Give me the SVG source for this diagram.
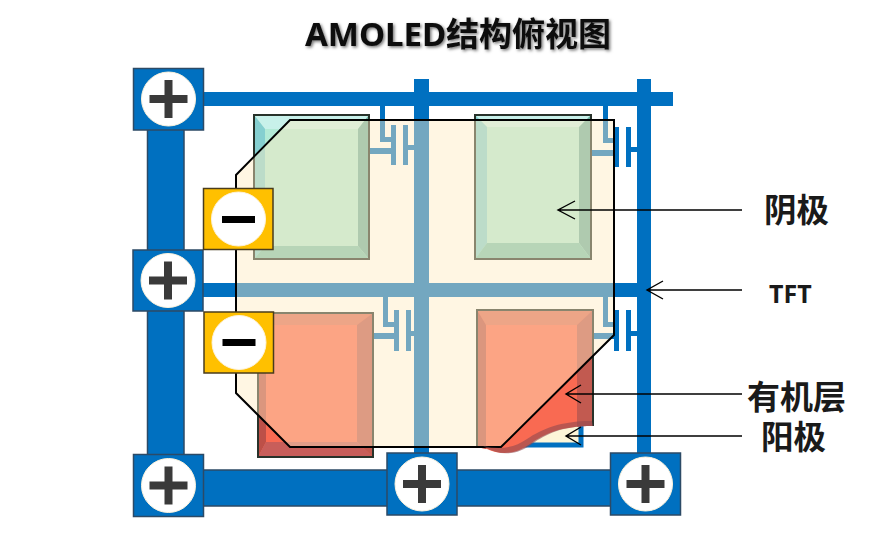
<svg xmlns="http://www.w3.org/2000/svg" width="880" height="556" viewBox="0 0 880 556">
<style>
.bus{fill:#0070c0}
.busl{fill:#0070c0;stroke:#2c4a66;stroke-width:1.5}
.pbox{fill:#0070c0;stroke:#2c4a66;stroke-width:1.5}
.mbox{fill:#ffc000;stroke:#4a3c1c;stroke-width:1.5}
.disc{fill:#fff;stroke:#fdf3dc;stroke-width:1}
.sign{fill:#3a3a3a}
.signm{fill:#000}
.gt{fill:#c8f1ea}.gl{fill:#85cfd0}.gr{fill:#6db0a0}.gb{fill:#7cc4b0}.gf{fill:#b2ead6}
.rt{fill:#de6c58}.rl{fill:#bd5048}.rr{fill:#c25a50}.rb{fill:#c85e5a}.rf{fill:#f96a52}
.edge{fill:none;stroke:#28322a;stroke-width:2}
.panel{fill:#ffeac0;fill-opacity:.45}
.outline{fill:none;stroke:#000;stroke-width:2}
.arrow{fill:none;stroke:#000;stroke-width:1.4}
.lbl{font-family:"Noto Sans","Noto Sans CJK SC",sans-serif;font-weight:700;fill:#1a1a1a}
</style>
<defs>
<filter id="sh" x="-5%" y="-30%" width="110%" height="160%"><feDropShadow dx="1.5" dy="1.5" stdDeviation="1.5" flood-color="#000" flood-opacity=".55"/></filter>
<clipPath id="curl"><path d="M470 300H600V426H593C560 426 544 434 530 444C515 455 500 455 487 449L470 446Z"/></clipPath>
<g id="plusMark"><rect class="sign" x="-19" y="-4" width="38" height="8"/><rect class="sign" x="-4" y="-19" width="8" height="38"/></g>
</defs>
<text x="458" y="46" text-anchor="middle" font-size="33" font-weight="700" filter="url(#sh)" style="font-family:'Noto Sans','Noto Sans CJK SC',sans-serif" fill="#111">AMOLED结构俯视图</text>

<g id="connectors">
<rect class="bus" x="200" y="92" width="473" height="14"/>
<rect class="bus" x="414" y="79" width="15" height="376"/>
<rect class="bus" x="637" y="79" width="14" height="376"/>
<rect class="bus" x="200" y="283" width="440" height="14"/>
<rect class="busl" x="147.500" y="128" width="36.500" height="328"/>
<rect class="busl" x="200" y="470" width="412" height="36"/>
<g class="bus">
<path d="M380 106h5v31h6v5h-11z"/><rect x="369" y="148" width="22" height="6"/><rect x="391" y="125" width="5" height="40"/><rect x="403" y="125" width="5" height="40"/><rect x="408" y="145" width="6" height="5"/>
<path d="M603 106h5v32h6v5h-11z"/><rect x="591" y="150" width="23" height="6"/><rect x="614" y="127" width="5" height="40"/><rect x="626" y="127" width="5" height="40"/><rect x="631" y="147" width="6" height="5"/>
<path d="M383 297h5v25h6v5h-11z"/><rect x="373" y="333" width="21" height="6"/><rect x="394" y="310" width="5" height="41"/><rect x="406" y="310" width="5" height="41"/><rect x="411" y="331" width="3" height="5"/>
<path d="M603 297h5v25h6v5h-11z"/><rect x="593" y="333" width="21" height="6"/><rect x="614" y="310" width="5" height="41"/><rect x="626" y="310" width="5" height="41"/><rect x="631" y="331" width="6" height="5"/>
</g>
</g>

<g id="anode"><rect x="500" y="380" width="81" height="65" fill="#fdf6d8" stroke="#0070c0" stroke-width="5"/></g>

<g id="cathode1">
<rect class="gf" x="254" y="115" width="115" height="144"/>
<polygon class="gt" points="254,115 369,115 358,129 265,129"/>
<polygon class="gl" points="254,115 265,129 265,246 254,259"/>
<polygon class="gr" points="369,115 358,129 358,246 369,259"/>
<polygon class="gb" points="254,259 265,246 358,246 369,259"/>
<rect class="edge" x="254" y="115" width="115" height="144"/>
</g>
<g id="cathode2">
<rect class="gf" x="475" y="115" width="116" height="144"/>
<polygon class="gt" points="475,115 591,115 579,127 487,127"/>
<polygon class="gl" points="475,115 487,127 487,243 475,259"/>
<polygon class="gr" points="591,115 579,127 579,243 591,259"/>
<polygon class="gb" points="475,259 487,243 579,243 591,259"/>
<rect class="edge" x="475" y="115" width="116" height="144"/>
</g>
<g id="organic3">
<rect class="rf" x="258" y="313" width="115" height="144"/>
<polygon class="rt" points="258,313 373,313 357,325 266,325"/>
<polygon class="rl" points="258,313 266,325 266,442 258,457"/>
<polygon class="rr" points="373,313 357,325 357,442 373,457"/>
<polygon class="rb" points="258,457 266,442 357,442 373,457"/>
<rect class="edge" x="258" y="313" width="115" height="144"/>
</g>
<g id="organic4" clip-path="url(#curl)">
<rect class="rf" x="477" y="310" width="116" height="145"/>
<polygon class="rt" points="477,310 593,310 577,325 486,325"/>
<polygon class="rl" points="477,310 486,325 486,455 477,455"/>
<polygon class="rr" points="593,310 577,325 577,455 593,455"/>
<rect class="edge" x="477" y="310" width="116" height="145"/>
</g>

<g id="panel">
<polygon class="panel" points="290,120 614,120 614,335 501,447 290,447 236,393 236,175"/>
<polygon class="outline" points="290,120 614,120 614,335 501,447 290,447 236,393 236,175"/>
</g>
<path id="curlEdge" d="M483 446C500 457 518 455 532 444C546 434 562 426 593 426L592 421C560 421 542 429 527 439C514 448 500 450 483 446Z" fill="#8f4a50" fill-opacity=".6"/>

<g id="plus1"><rect class="pbox" x="133.500" y="68.500" width="70" height="61.500"/><circle class="disc" cx="168.500" cy="99" r="27"/><use href="#plusMark" x="168.500" y="99"/></g>
<g id="plus2"><rect class="pbox" x="133" y="250" width="70" height="61"/><circle class="disc" cx="168" cy="280.500" r="27"/><use href="#plusMark" x="168" y="280.500"/></g>
<g id="plus3"><rect class="pbox" x="133.500" y="454.500" width="70" height="62"/><circle class="disc" cx="168.500" cy="485.500" r="27"/><use href="#plusMark" x="168.500" y="485.500"/></g>
<g id="plus4"><rect class="pbox" x="387" y="453" width="70" height="62"/><circle class="disc" cx="422" cy="484" r="27"/><use href="#plusMark" x="422" y="484"/></g>
<g id="plus5"><rect class="pbox" x="610.500" y="453" width="70" height="62"/><circle class="disc" cx="645.500" cy="484" r="27"/><use href="#plusMark" x="645.500" y="484"/></g>
<g id="minus1"><rect class="mbox" x="203.500" y="188.500" width="69.500" height="61"/><circle class="disc" cx="238.500" cy="219" r="27"/><rect class="signm" x="222" y="216" width="33" height="7"/></g>
<g id="minus2"><rect class="mbox" x="204" y="312" width="69.500" height="61"/><circle class="disc" cx="239" cy="342.500" r="27"/><rect class="signm" x="222.500" y="339" width="33" height="7"/></g>

<g id="arrows">
<path class="arrow" d="M742 210H558M575 201L558 210L575 219"/>
<path class="arrow" d="M742 290H647M663 281L647 290L663 299"/>
<path class="arrow" d="M742 394H566M581 385L566 394L581 403"/>
<path class="arrow" d="M742 436H566M581 427L566 436L581 445"/>
</g>

<g id="labels">
<text class="lbl" x="764" y="222" font-size="32.500">阴极</text>
<text class="lbl" x="769" y="303" font-size="25">TFT</text>
<text class="lbl" x="747" y="409" font-size="33">有机层</text>
<text class="lbl" x="761" y="449" font-size="32.500">阳极</text>
</g>
</svg>
